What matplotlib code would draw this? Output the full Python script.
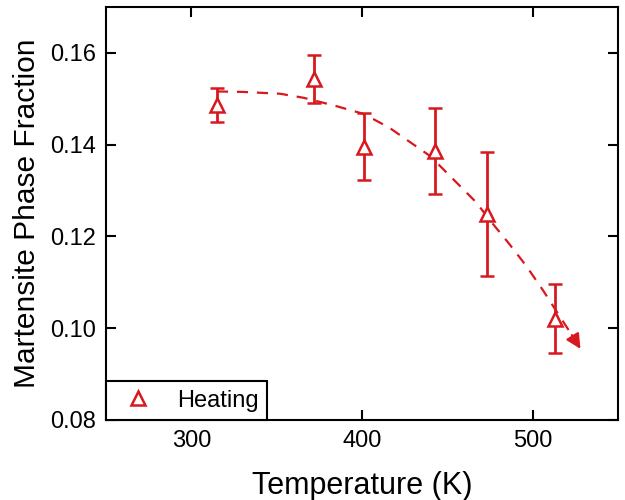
import numpy as np
import matplotlib.pyplot as plt
from matplotlib.lines import Line2D

plt.rcParams['font.family'] = ['Liberation Sans', 'DejaVu Sans']

# measured points
temperature = [315, 372, 401, 443, 473, 513]
fraction = [0.1487, 0.1543, 0.1395, 0.1386, 0.1248, 0.1021]
fraction_err = [0.0037, 0.0053, 0.0073, 0.0094, 0.0135, 0.0075]

# guide curve (dashed trend line)
trend_t = [315, 330, 352, 366, 384, 401, 416, 440, 467, 475, 486, 496, 506, 516, 523]
trend_f = [0.1516, 0.1515, 0.1511, 0.1502, 0.1485, 0.1467, 0.1437, 0.1375, 0.1274,
           0.1235, 0.1185, 0.1137, 0.1083, 0.1025, 0.0985]
arrow_tip = (528, 0.0955)

red = '#D7191F'

fig = plt.figure(figsize=(6.25, 5), dpi=100)
ax = fig.add_axes([0.1696, 0.16, 0.8192, 0.826])

ax.plot(trend_t, trend_f, color=red, linestyle=(0, (5, 4)), linewidth=1.6)
ax.annotate('', xy=arrow_tip, xytext=(trend_t[-1], trend_f[-1]),
            arrowprops=dict(arrowstyle='-|>', color=red, lw=1.6,
                            mutation_scale=22, shrinkA=0, shrinkB=0))

ax.errorbar(temperature, fraction, yerr=fraction_err, fmt='^', color=red,
            markerfacecolor='white', markeredgecolor=red, markersize=10,
            markeredgewidth=1.8, elinewidth=2, capsize=5, capthick=2)

ax.set_xlim(250, 550)
ax.set_ylim(0.08, 0.17)
ax.set_xticks([300, 400, 500])
ax.set_yticks([0.08, 0.10, 0.12, 0.14, 0.16])
ax.set_yticklabels(['0.08', '0.10', '0.12', '0.14', '0.16'])
ax.tick_params(direction='in', length=7, width=1.5, labelsize=17,
               top=True, right=True, pad=7)
for s in ax.spines.values():
    s.set_linewidth(1.5)

ax.set_xlabel('Temperature (K)', fontsize=22, labelpad=14)
ax.set_ylabel('Martensite Phase Fraction', fontsize=21.5, labelpad=7)

handle = Line2D([], [], linestyle='none', marker='^', markersize=10,
                markerfacecolor='white', markeredgecolor=red, markeredgewidth=1.8)
leg = ax.legend([handle], ['Heating'], loc='lower left', borderaxespad=0,
                fontsize=17, fancybox=False, edgecolor='black', framealpha=1,
                handlelength=2.0, handletextpad=0.65, borderpad=0.35)
leg.get_frame().set_linewidth(1.5)

plt.savefig('out.png', dpi=100)
